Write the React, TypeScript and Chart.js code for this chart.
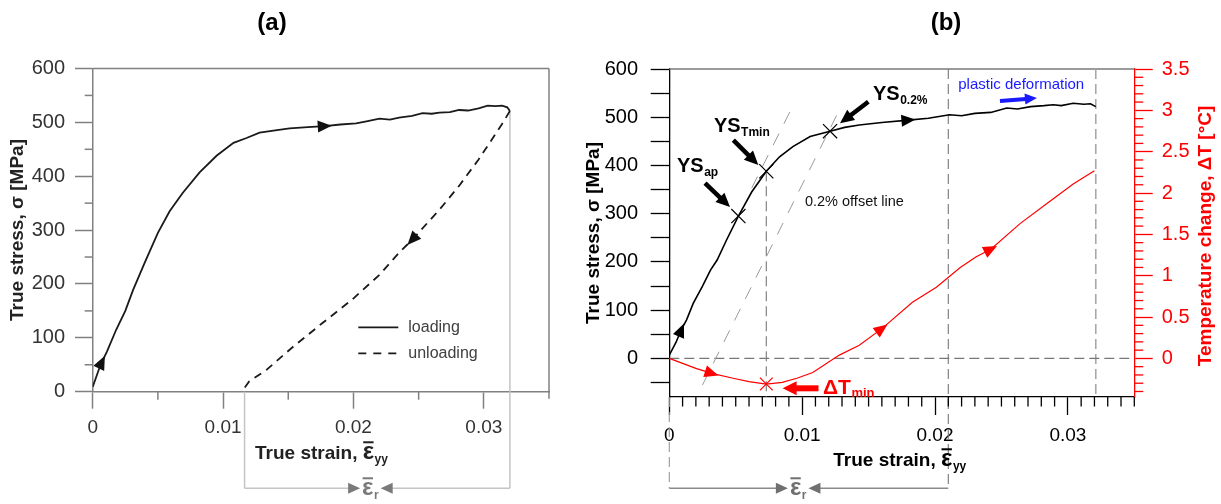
import React, { useEffect, useRef } from "react";
import { Chart, registerables } from "chart.js";
Chart.register(...registerables);

const FONT = '"Liberation Sans", Arial, Helvetica, sans-serif';

// ---------- Panel (a) data ----------
const loadA_strain = [0, 0.0006, 0.0011, 0.0018, 0.0025, 0.0031, 0.004, 0.005, 0.0059, 0.0069, 0.0082, 0.0095, 0.0108, 0.0118, 0.0128, 0.014, 0.0151, 0.0165, 0.0178, 0.019, 0.0202, 0.021, 0.022, 0.0228, 0.0235, 0.0245, 0.0253, 0.026, 0.0266, 0.0274, 0.0281, 0.0288, 0.0296, 0.0303, 0.0309, 0.0314, 0.0318, 0.032];
const loadA_stress = [9, 50, 75, 115, 150, 189, 240, 295, 335, 369, 407, 438, 462, 471, 481, 485, 489, 491, 493, 496, 498, 502, 507, 505, 509, 512, 517, 516, 518, 519, 523, 522, 526, 531, 530, 531, 528, 521];
const unloadA_strain = [0.032, 0.0314, 0.0296, 0.0281, 0.0266, 0.0245, 0.0235, 0.022, 0.0199, 0.0176, 0.0154, 0.0133, 0.012, 0.01165];
const unloadA_stress = [521, 497, 431, 382, 338, 282, 258, 217, 171, 127, 84, 40, 19, 7];
const stressMinorA = [50, 150, 250, 350, 450, 550];
const strainMinorA = [0.005, 0.015, 0.025];
const residualA = [0.01165, 0.032];
const residualLabelA = 0.0213;
const arrowsA_load = [0.0007, 0.0178];
const arrowsA_unload = [0.0245];
const legendLabelsA = ["loading", "unloading"];

// ---------- Panel (b) data ----------
const loadB_strain = [0, 0.0005, 0.0009, 0.0013, 0.0018, 0.0025, 0.0031, 0.0036, 0.0043, 0.0052, 0.0062, 0.0073, 0.0083, 0.0093, 0.0106, 0.0121, 0.0132, 0.0143, 0.016, 0.018, 0.0195, 0.0211, 0.022, 0.023, 0.0242, 0.0254, 0.0262, 0.0272, 0.0282, 0.0289, 0.0295, 0.0304, 0.0312, 0.0317, 0.0321];
const loadB_stress = [7, 33, 59, 80, 114, 150, 183, 204, 245, 295, 345, 388, 418, 439, 460, 471, 479, 484, 489, 494, 498, 505, 503, 508, 510, 519, 517, 522, 524, 526, 524, 529, 527, 528, 522];
const tempB_strain = [0, 0.001, 0.002, 0.0032, 0.0048, 0.006, 0.0073, 0.0085, 0.0096, 0.0108, 0.0128, 0.0143, 0.016, 0.0183, 0.0201, 0.0219, 0.0231, 0.0242, 0.0264, 0.0284, 0.0304, 0.032];
const tempB_dT = [0, -0.06, -0.12, -0.18, -0.24, -0.28, -0.31, -0.29, -0.24, -0.17, 0.04, 0.16, 0.36, 0.68, 0.86, 1.1, 1.23, 1.32, 1.63, 1.87, 2.11, 2.27];
const yieldSubs = ["ap", "Tmin", "0.2%"];
const yieldStrain = [0.0052, 0.0073, 0.0121];
const yieldStress = [295, 388, 471];
const dTminStrain = [0.0073];
const dTminValue = [-0.31];
const offset1Strain = [0.0062, 0.0092];
const offset1Stress = [353, 518];
const offset2Strain = [0.0025, 0.01285];
const offset2Stress = [-55, 518];
const plasticStartStrain = 0.021;
const testEndStrain = 0.0321;
const residualB = [0, 0.021];
const residualLabelB = 0.0097;
const arrowsB_load = [0.0009, 0.018];
const arrowsB_temp = [0.0032, 0.016, 0.0242];
const stressMinB = -80, stressMaxB = 600, dTMaxB = 3.5;

const pts = (xs: number[], ys: number[]) => xs.map((x, i) => ({ x, y: ys[i] }));
const fmtStrain = (v: number) => (Math.abs(v) < 1e-12 ? "0" : String(Math.round(v * 100) / 100));

function seg(ctx: any, x1: number, y1: number, x2: number, y2: number, color: string, w: number, dash: number[] = []) {
  ctx.save();
  ctx.beginPath();
  ctx.strokeStyle = color;
  ctx.lineWidth = w;
  ctx.setLineDash(dash);
  ctx.moveTo(x1, y1);
  ctx.lineTo(x2, y2);
  ctx.stroke();
  ctx.restore();
}
function tri(ctx: any, x: number, y: number, ang: number, len: number, wid: number, color: string) {
  ctx.save();
  ctx.translate(x, y);
  ctx.rotate(ang);
  ctx.beginPath();
  ctx.moveTo(len / 2, 0);
  ctx.lineTo(-len / 2, -wid / 2);
  ctx.lineTo(-len / 2, wid / 2);
  ctx.closePath();
  ctx.fillStyle = color;
  ctx.fill();
  ctx.restore();
}
function fatArrow(ctx: any, x1: number, y1: number, x2: number, y2: number, shaft: number, headLen: number, headW: number, color: string) {
  const ang = Math.atan2(y2 - y1, x2 - x1);
  const L = Math.hypot(x2 - x1, y2 - y1);
  ctx.save();
  ctx.translate(x1, y1);
  ctx.rotate(ang);
  ctx.fillStyle = color;
  ctx.fillRect(0, -shaft / 2, L - headLen + 1, shaft);
  ctx.beginPath();
  ctx.moveTo(L, 0);
  ctx.lineTo(L - headLen, -headW / 2);
  ctx.lineTo(L - headLen, headW / 2);
  ctx.closePath();
  ctx.fill();
  ctx.restore();
}
function textSub(ctx: any, x: number, y: number, main: string, sub: string, mainSize: number, subSize: number, color: string, subDy: number) {
  ctx.save();
  ctx.fillStyle = color;
  ctx.textAlign = "left";
  ctx.textBaseline = "alphabetic";
  ctx.font = `bold ${mainSize}px ${FONT}`;
  ctx.fillText(main, x, y);
  const w = ctx.measureText(main).width;
  ctx.font = `bold ${subSize}px ${FONT}`;
  ctx.fillText(sub, x + w + 0.5, y + subDy);
  ctx.restore();
}
function epsBar(ctx: any, x: number, baseline: number, size: number, color: string, sub: string, subSize: number, subDy: number) {
  ctx.save();
  ctx.fillStyle = color;
  ctx.textAlign = "left";
  ctx.textBaseline = "alphabetic";
  ctx.font = `bold ${size}px ${FONT}`;
  ctx.fillText("\u03b5", x, baseline);
  const w = ctx.measureText("\u03b5").width;
  const top = baseline - size * 0.53 - 5;
  ctx.fillRect(x + 0.5, top, w - 1, 2);
  ctx.font = `bold ${subSize}px ${FONT}`;
  ctx.fillText(sub, x + w + 0.5, baseline + subDy);
  const ws = ctx.measureText(sub).width;
  ctx.restore();
  return w + ws + 0.5;
}
function rotText(ctx: any, text: string, cx: number, cy: number, font: string, color: string) {
  ctx.save();
  ctx.translate(cx, cy);
  ctx.rotate(-Math.PI / 2);
  ctx.font = font;
  ctx.fillStyle = color;
  ctx.textAlign = "center";
  ctx.textBaseline = "middle";
  ctx.fillText(text, 0, 0);
  ctx.restore();
}
function centerText(ctx: any, text: string, cx: number, cy: number, font: string, color: string) {
  ctx.save();
  ctx.font = font;
  ctx.fillStyle = color;
  ctx.textAlign = "center";
  ctx.textBaseline = "middle";
  ctx.fillText(text, cx, cy);
  ctx.restore();
}
function curveArrow(chart: any, dsIndex: number, atX: number, color: string, len: number, wid: number) {
  const meta = chart.getDatasetMeta(dsIndex);
  const data = chart.data.datasets[dsIndex].data;
  for (let i = 0; i < data.length - 1; i++) {
    const a = data[i].x, b = data[i + 1].x;
    if (a !== b && (atX - a) * (atX - b) <= 0) {
      const t = (atX - a) / (b - a);
      const p0 = meta.data[i], p1 = meta.data[i + 1];
      const px = p0.x + t * (p1.x - p0.x);
      const py = p0.y + t * (p1.y - p0.y);
      const ang = Math.atan2(p1.y - p0.y, p1.x - p0.x);
      tri(chart.ctx, px, py, ang, len, wid, color);
      return;
    }
  }
}
function bracketLabel(ctx: any, xL: number, xR: number, yLine: number, cx: number, lineColor: string, headColor: string, labelColor: string) {
  ctx.save();
  ctx.font = `bold 24px ${FONT}`;
  const we = ctx.measureText("\u03b5").width;
  ctx.font = `bold 12px ${FONT}`;
  const wr = ctx.measureText("r").width;
  const tw = we + wr + 0.5;
  const lx = cx - tw / 2, rx = cx + tw / 2;
  const hl = 12, hw = 11;
  seg(ctx, xL, yLine, lx - 2 - hl + 1, yLine, lineColor, 1.5);
  seg(ctx, rx + 2 + hl - 1, yLine, xR, yLine, lineColor, 1.5);
  tri(ctx, lx - 2 - hl / 2, yLine, 0, hl, hw, headColor);
  tri(ctx, rx + 2 + hl / 2, yLine, Math.PI, hl, hw, headColor);
  epsBar(ctx, lx, yLine + 6.7, 24, labelColor, "r", 12, 4);
  ctx.restore();
}

// ---------------- Panel (a) ----------------
function makeConfigA(): any {
  const axisGray = "#808080";
  const tickText = "#333333";
  const plugin = {
    id: "annA",
    beforeDatasetsDraw(chart: any) {
      const { ctx, chartArea: ca, scales } = chart;
      const x = scales.x, y = scales.y;
      seg(ctx, ca.left, ca.top, ca.right, ca.top, axisGray, 1.5);
      seg(ctx, ca.right, ca.top, ca.right, ca.bottom + 7, axisGray, 1.5);
      stressMinorA.forEach((v) => {
        const p = y.getPixelForValue(v);
        seg(ctx, ca.left - 8, p, ca.left, p, axisGray, 1.5);
      });
      strainMinorA.forEach((v) => {
        const p = x.getPixelForValue(v);
        seg(ctx, p, ca.bottom, p, ca.bottom + 8, axisGray, 1.5);
      });
      // residual strain bracket (light gray)
      const yB = ca.bottom + 96.6;
      const xl = x.getPixelForValue(residualA[0]);
      const xr = x.getPixelForValue(residualA[1]);
      const yEnd = y.getPixelForValue(loadA_stress[loadA_stress.length - 1]);
      seg(ctx, xl, ca.bottom, xl, yB, "#c4c4c4", 1.5);
      seg(ctx, xr, yEnd, xr, yB, "#c4c4c4", 1.5);
    },
    afterDatasetsDraw(chart: any) {
      arrowsA_load.forEach((v) => curveArrow(chart, 0, v, "#111", 14, 12));
      arrowsA_unload.forEach((v) => curveArrow(chart, 1, v, "#111", 14, 12));
    },
    afterDraw(chart: any) {
      const { ctx, chartArea: ca, scales } = chart;
      const x = scales.x;
      // legend
      const lx = ca.left + 265.6, ly = ca.top + 258.8;
      seg(ctx, lx, ly, lx + 40, ly, "#1a1a1a", 1.8);
      seg(ctx, lx, ly + 26, lx + 40, ly + 26, "#1a1a1a", 1.8, [8, 7]);
      ctx.save();
      ctx.font = `16px ${FONT}`;
      ctx.fillStyle = "#404040";
      ctx.textAlign = "left";
      ctx.textBaseline = "middle";
      ctx.fillText(legendLabelsA[0], lx + 50, ly + 0.5);
      ctx.fillText(legendLabelsA[1], lx + 50, ly + 26.5);
      ctx.restore();
      // bracket
      const yB = ca.bottom + 96.6;
      bracketLabel(ctx, x.getPixelForValue(residualA[0]), x.getPixelForValue(residualA[1]), yB, x.getPixelForValue(residualLabelA), "#c4c4c4", "#7a7a7a", "#7a7a7a");
      // titles
      centerText(ctx, "(a)", 272, 23, `bold 24px ${FONT}`, "#000");
      rotText(ctx, "True stress, \u03c3 [MPa]", 17.5, 230, `bold 19px ${FONT}`, "#222");
      ctx.save();
      ctx.font = `bold 19px ${FONT}`;
      ctx.fillStyle = "#222";
      ctx.textAlign = "left";
      ctx.textBaseline = "alphabetic";
      const t = "True strain, ";
      ctx.fillText(t, 255, 459);
      const w = ctx.measureText(t).width;
      ctx.restore();
      epsBar(ctx, 255 + w, 459, 24, "#222", "yy", 12, 4);
    },
  };
  return {
    type: "scatter",
    data: {
      datasets: [
        { data: pts(loadA_strain, loadA_stress), showLine: true, borderColor: "#1a1a1a", borderWidth: 1.8, pointRadius: 0, tension: 0 },
        { data: pts(unloadA_strain, unloadA_stress), showLine: true, borderColor: "#1a1a1a", borderWidth: 1.8, borderDash: [8, 6], pointRadius: 0, tension: 0 },
      ],
    },
    options: {
      animation: false,
      responsive: false,
      events: [],
      layout: { padding: { left: 0, right: 11, top: 68.5, bottom: 62.3 } },
      plugins: { legend: { display: false }, tooltip: { enabled: false } },
      scales: {
        x: {
          type: "linear",
          position: "bottom",
          min: 0,
          max: 0.035,
          afterFit: (s: any) => { s.height = 50; },
          ticks: { stepSize: 0.01, includeBounds: false, callback: (v: number) => fmtStrain(v), color: tickText, font: { family: FONT, size: 19 }, padding: 8, maxRotation: 0, autoSkip: false },
          grid: { drawOnChartArea: false, drawTicks: true, tickLength: 17, tickColor: axisGray, tickWidth: 1.5 },
          border: { display: true, color: axisGray, width: 1.5 },
        },
        y: {
          type: "linear",
          position: "left",
          min: 0,
          max: 600,
          afterFit: (s: any) => { s.width = 92.7; },
          ticks: { stepSize: 100, includeBounds: false, color: tickText, font: { family: FONT, size: 20 }, padding: 10 },
          grid: { drawOnChartArea: false, drawTicks: true, tickLength: 17.7, tickColor: axisGray, tickWidth: 1.5 },
          border: { display: true, color: axisGray, width: 1.5 },
        },
      },
    },
    plugins: [plugin],
  };
}

// ---------------- Panel (b) ----------------
function makeConfigB(): any {
  const plugin = {
    id: "annB",
    beforeDatasetsDraw(chart: any) {
      const { ctx, chartArea: ca, scales } = chart;
      const x = scales.x, y1 = scales.y1, y = scales.y;
      const yB = ca.bottom + 91.3;
      seg(ctx, ca.left, ca.top, ca.right, ca.top, "#7a7a7a", 1.3);
      // vertical reference lines
      const xT = x.getPixelForValue(yieldStrain[1]);
      seg(ctx, xT, y.getPixelForValue(yieldStress[1]), xT, ca.bottom, "#777", 1.1, [10, 5]);
      const xP = x.getPixelForValue(plasticStartStrain);
      seg(ctx, xP, ca.top, xP, yB, "#777", 1.1, [10, 5]);
      const xE = x.getPixelForValue(testEndStrain);
      seg(ctx, xE, ca.top, xE, ca.bottom, "#a8a8a8", 1.6, [10, 5]);
      const x0 = x.getPixelForValue(residualB[0]);
      seg(ctx, x0, ca.bottom, x0, yB, "#999", 1.1, [10, 5]);
      // minor ticks
      for (let i = 1; i <= 35; i++) {
        if (i % 10 === 0) continue;
        const p = x.getPixelForValue(i / 1000);
        seg(ctx, p, ca.bottom, p, ca.bottom + 9.5, "#000", 1.3);
      }
      for (let i = -4; i <= 34; i++) {
        if (i % 5 === 0) continue;
        const p = y1.getPixelForValue(i / 10);
        seg(ctx, ca.right, p, ca.right + 9, p, "#ff0000", 1.3);
      }
    },
    afterDatasetsDraw(chart: any) {
      arrowsB_load.forEach((v) => curveArrow(chart, 0, v, "#000", 14, 12));
      arrowsB_temp.forEach((v) => curveArrow(chart, 1, v, "#ff0000", 14, 12));
    },
    afterDraw(chart: any) {
      const { ctx, chartArea: ca, scales } = chart;
      const x = scales.x, y = scales.y;
      const X = (v: number) => x.getPixelForValue(v);
      const Y = (v: number) => y.getPixelForValue(v);
      // yield strength labels
      textSub(ctx, X(0.00058), Y(386.3), "YS", yieldSubs[0], 20, 12, "#000", 4);
      textSub(ctx, X(0.00336), Y(469.3), "YS", yieldSubs[1], 20, 12, "#000", 4);
      textSub(ctx, X(0.01533), Y(535.6), "YS", yieldSubs[2], 20, 12, "#000", 4);
      fatArrow(ctx, X(0.00269), Y(363.6), X(0.00457), Y(313.8), 4.5, 14, 13, "#000");
      fatArrow(ctx, X(0.00482), Y(452.7), X(0.0067), Y(400.9), 4.5, 14, 13, "#000");
      fatArrow(ctx, X(0.01498), Y(532.1), X(0.01285), Y(487.4), 4.5, 14, 13, "#000");
      // dT min
      fatArrow(ctx, X(0.01123), Y(-62), X(0.00853), Y(-62), 6, 14, 14, "#ff0000");
      textSub(ctx, X(0.01157), Y(-72.8), "\u0394T", "min", 21, 13, "#ff0000", 3.5);
      // offset line text
      ctx.save();
      ctx.font = `14.5px ${FONT}`;
      ctx.fillStyle = "#111";
      ctx.textAlign = "left";
      ctx.textBaseline = "alphabetic";
      ctx.fillText("0.2% offset line", X(0.01021), Y(316));
      ctx.font = `15px ${FONT}`;
      ctx.fillStyle = "#1a1aff";
      ctx.fillText("plastic deformation", X(0.02175), Y(558.5));
      ctx.restore();
      fatArrow(ctx, X(0.02489), Y(533.6), X(0.02767), Y(539.8), 4, 12, 11, "#1a1aff");
      // bracket
      const yB = ca.bottom + 91.3;
      bracketLabel(ctx, X(residualB[0]), X(residualB[1]), yB, X(residualLabelB), "#8a8a8a", "#707070", "#707070");
      // titles
      centerText(ctx, "(b)", 386, 23, `bold 24px ${FONT}`, "#000");
      rotText(ctx, "True stress, \u03c3 [MPa]", 33.5, 233, `bold 19px ${FONT}`, "#000");
      rotText(ctx, "Temperature change, \u0394T [\u00b0C]", 645.8, 236, `bold 19px ${FONT}`, "#ff0000");
      ctx.save();
      ctx.font = `bold 19px ${FONT}`;
      ctx.fillStyle = "#000";
      ctx.textAlign = "left";
      ctx.textBaseline = "alphabetic";
      const t = "True strain, ";
      ctx.fillText(t, 273.3, 466);
      const w = ctx.measureText(t).width;
      ctx.restore();
      epsBar(ctx, 273.3 + w, 466, 24, "#000", "yy", 12, 4);
    },
  };
  return {
    type: "scatter",
    data: {
      datasets: [
        { data: pts(loadB_strain, loadB_stress), yAxisID: "y", showLine: true, borderColor: "#000", borderWidth: 1.6, pointRadius: 0, tension: 0 },
        { data: pts(tempB_strain, tempB_dT), yAxisID: "y1", showLine: true, borderColor: "#ff0000", borderWidth: 1.2, pointRadius: 0, tension: 0 },
        { data: pts(yieldStrain, yieldStress), yAxisID: "y", showLine: false, pointStyle: "crossRot", pointRadius: 10, borderColor: "#000", borderWidth: 1.2, backgroundColor: "rgba(0,0,0,0)" },
        { data: pts(dTminStrain, dTminValue), yAxisID: "y1", showLine: false, pointStyle: "crossRot", pointRadius: 9, borderColor: "#ff0000", borderWidth: 1.2, backgroundColor: "rgba(0,0,0,0)" },
        { data: pts(offset1Strain, offset1Stress), yAxisID: "y", showLine: true, borderColor: "#9a9a9a", borderWidth: 1, borderDash: [13, 11], pointRadius: 0 },
        { data: pts(offset2Strain, offset2Stress), yAxisID: "y", showLine: true, borderColor: "#9a9a9a", borderWidth: 1, borderDash: [13, 11], pointRadius: 0 },
        { data: pts([0, 0.035], [0, 0]), yAxisID: "y", showLine: true, borderColor: "#777", borderWidth: 1.2, borderDash: [10, 5], pointRadius: 0 },
      ],
    },
    options: {
      animation: false,
      responsive: false,
      events: [],
      layout: { padding: { left: 0, right: 0, top: 69, bottom: 57 } },
      plugins: { legend: { display: false }, tooltip: { enabled: false } },
      scales: {
        x: {
          type: "linear",
          position: "bottom",
          min: 0,
          max: 0.035,
          afterFit: (s: any) => { s.height = 50; },
          ticks: { stepSize: 0.01, includeBounds: false, callback: (v: number) => fmtStrain(v), color: "#000", font: { family: FONT, size: 19 }, padding: 9, maxRotation: 0, autoSkip: false },
          grid: { drawOnChartArea: false, drawTicks: true, tickLength: 18, tickColor: "#000", tickWidth: 1.3 },
          border: { display: true, color: "#000", width: 1.3 },
        },
        y: {
          type: "linear",
          position: "left",
          min: stressMinB,
          max: stressMaxB,
          afterFit: (s: any) => { s.width = 109.3; },
          ticks: { stepSize: 50, includeBounds: false, callback: (v: number) => (v >= 0 && Math.round(v) % 100 === 0 ? String(v) : ""), color: "#000", font: { family: FONT, size: 20 }, padding: 12.7, autoSkip: false },
          grid: { drawOnChartArea: false, drawTicks: true, tickLength: 18.6, tickColor: "#000", tickWidth: 1.3 },
          border: { display: true, color: "#000", width: 1.3 },
        },
        y1: {
          type: "linear",
          position: "right",
          min: (stressMinB / stressMaxB) * dTMaxB,
          max: dTMaxB,
          afterFit: (s: any) => { s.width = 86.7; },
          ticks: { stepSize: 0.5, includeBounds: false, callback: (v: number) => (v >= -1e-9 ? String(Math.round(v * 10) / 10) : ""), color: "#ff0000", font: { family: FONT, size: 20 }, padding: 9, autoSkip: false },
          grid: { drawOnChartArea: false, drawTicks: true, tickLength: 18.4, tickColor: "#ff0000", tickWidth: 1.3 },
          border: { display: true, color: "#ff0000", width: 1.3 },
        },
      },
    },
    plugins: [plugin],
  };
}

export default function App() {
  const refA = useRef<HTMLCanvasElement>(null);
  const refB = useRef<HTMLCanvasElement>(null);
  useEffect(() => {
    const a = new Chart(refA.current as HTMLCanvasElement, makeConfigA());
    const b = new Chart(refB.current as HTMLCanvasElement, makeConfigB());
    return () => {
      a.destroy();
      b.destroy();
    };
  }, []);
  return (
    <div style={{ position: "absolute", left: 0, top: 0, width: 1221, height: 504, background: "#fff" }}>
      <canvas ref={refA} width={560} height={504} style={{ position: "absolute", left: 0, top: 0, width: 560, height: 504 }} />
      <canvas ref={refB} width={661} height={504} style={{ position: "absolute", left: 560, top: 0, width: 661, height: 504 }} />
    </div>
  );
}
